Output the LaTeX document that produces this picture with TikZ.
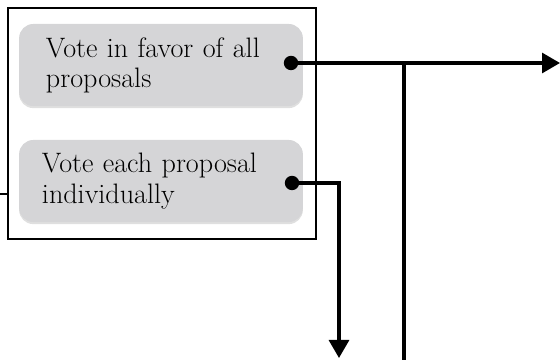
\documentclass[tikz,border=0pt]{standalone}
\usepackage{tikz}
\usetikzlibrary{arrows.meta,positioning,shadows}

\definecolor{boxgray}{RGB}{213,213,215}

\begin{document}
\begin{tikzpicture}[x=0.025cm,y=-0.025cm,
  choice/.style={draw=none,fill=boxgray,rounded corners=10pt,minimum width=7.05cm,minimum height=2.05cm,
    text width=5.75cm,inner xsep=0.67cm,align=left,font=\fontsize{20}{21.5}\selectfont,
    drop shadow={opacity=0.25,shadow xshift=0pt,shadow yshift=-1.5pt}},
  dot/.style={shape=circle,fill=black,inner sep=0pt,minimum size=0.36cm},
  wire/.style={line width=2.2pt},
  tip/.style={-{Triangle[length=0.45cm,width=0.5cm]}}]

\useasboundingbox (0,0) rectangle (560,360);

\node[draw,line width=1.4pt,minimum width=7.7cm,minimum height=5.775cm] (frame) at (162,123.5) {};
\node[choice] (all) at (161,65) {Vote in favor of all\\proposals};
\node[choice,inner xsep=0.57cm,text width=5.95cm] (each) at (161,181) {Vote each proposal\\individually};
\node[dot] (a) at (291,63) {};
\node[dot] (b) at (292,183) {};

\coordinate (in) at (0,194);
\coordinate (out) at (560,63);
\coordinate (split) at (404,63);
\coordinate (splitend) at (404,360);
\coordinate (down) at (339,358);

\draw[line width=1pt] (in) -- (frame.west |- in);
\draw[wire,tip] (a) -- (out);
\draw[wire] (split) -- (splitend);
\draw[wire,tip] (b) -| (down);
\end{tikzpicture}
\end{document}
